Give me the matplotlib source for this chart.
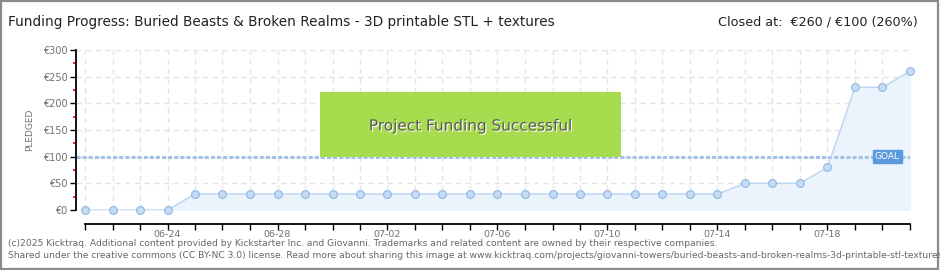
import matplotlib
matplotlib.use("Agg")
import matplotlib.pyplot as plt
import matplotlib.patheffects as pe
from matplotlib.patches import Rectangle
from matplotlib.ticker import FixedLocator, NullLocator
import numpy as np

plt.rcParams['font.family'] = ['DejaVu Sans']

dates = ["06-21", "06-22", "06-23", "06-24", "06-25", "06-26", "06-27", "06-28",
         "06-29", "06-30", "07-01", "07-02", "07-03", "07-04", "07-05", "07-06",
         "07-07", "07-08", "07-09", "07-10", "07-11", "07-12", "07-13", "07-14",
         "07-15", "07-16", "07-17", "07-18", "07-19", "07-20", "07-21"]
pledged = [0, 0, 0, 0, 30, 30, 30, 30, 30, 30, 30, 30, 30, 30, 30, 30,
           30, 30, 30, 30, 30, 30, 30, 30, 50, 50, 50, 80, 230, 230, 260]
labeled_dates = ["06-24", "06-28", "07-02", "07-06", "07-10", "07-14", "07-18"]
goal = 100
yticks = [0, 50, 100, 150, 200, 250, 300]
ytick_labels = ["€0", "€50", "€100", "€150", "€200", "€250", "€300"]
yminor = [25, 75, 125, 175, 225, 275]

title = "Funding Progress: Buried Beasts & Broken Realms - 3D printable STL + textures"
closed = "Closed at:  €260 / €100 (260%)"
footer1 = "(c)2025 Kicktraq. Additional content provided by Kickstarter Inc. and Giovanni. Trademarks and related content are owned by their respective companies."
footer2 = "Shared under the creative commons (CC BY-NC 3.0) license. Read more about sharing this image at www.kicktraq.com/projects/giovanni-towers/buried-beasts-and-broken-realms-3d-printable-stl-textures/"

W, H = 940, 270
fig = plt.figure(figsize=(W / 100, H / 100), dpi=100)
fig.patch.set_facecolor("white")
fig.patches.append(Rectangle((0.001, 0.002), 0.997, 0.995, transform=fig.transFigure,
                             fill=False, edgecolor="#8a8a8a", linewidth=1.6))

L, R, B, T = 76, 910, 210, 50
ax = fig.add_axes([L / W, (H - B) / H, (R - L) / W, (B - T) / H])
x = np.arange(len(dates))
n = len(dates) - 1
px_per_day = (R - 85) / n
ax.set_xlim(-(85 - L) / px_per_day, n)
ax.set_ylim(0, 300)

# grid
for yv in yticks[1:]:
    ax.axhline(yv, color="#e4e4e4", lw=1, ls=(0, (4, 3)), zorder=0)
for xv in x:
    ax.axvline(xv, color="#e4e4e4", lw=1, ls=(0, (4, 3)), zorder=0)

ax.fill_between(x, pledged, 0, color="#ebf3fc", zorder=1)
ax.plot(x, pledged, color="#b9d5f2", lw=1, zorder=3)
ax.plot(x, pledged, ls="none", marker="o", ms=5.6, mfc="#c4dcf6", mec="#93b5dc",
        mew=0.8, zorder=4, clip_on=False)

ax.axhline(goal, color="#a3c1e4", lw=2.2, ls=(0, (1.3, 0.7)), zorder=2)
ax.text(n - 0.82, goal, "GOAL", color="white", fontsize=6.5, ha="center", va="center",
        zorder=6, bbox=dict(boxstyle="square,pad=0.25", fc="#5a9be0", ec="#5a9be0"))

# success box
ax.add_patch(Rectangle((0.2926, 0.331), 0.3609, 0.4065, transform=ax.transAxes,
                       facecolor="#a7dc4e", edgecolor="none", zorder=5))
ax.text(0.4735, 0.525, "Project Funding Successful", transform=ax.transAxes,
        ha="center", va="center", fontsize=11, color="#5a5a5a", zorder=7,
        path_effects=[pe.SimplePatchShadow(offset=(0.8, -0.8), shadow_rgbFace="white",
                                           alpha=1.0), pe.Normal()])

for s in ["top", "right"]:
    ax.spines[s].set_visible(False)
ax.spines["left"].set_color("black")
ax.spines["left"].set_bounds(0, 300)
ax.spines["bottom"].set_position(("outward", 10))
ax.spines["bottom"].set_bounds(0, n)
ax.spines["bottom"].set_linewidth(1.3)
ax.spines["left"].set_linewidth(1.3)

ax.yaxis.set_major_locator(FixedLocator(yticks))
ax.set_yticklabels(ytick_labels)
ax.yaxis.set_minor_locator(FixedLocator(yminor))
ax.xaxis.set_minor_locator(NullLocator())
ax.tick_params(axis="y", which="major", length=4, width=1, color="black",
               labelsize=7, labelcolor="#707070", pad=2)
ax.tick_params(axis="y", which="minor", length=2.5, width=1.2, color="#ff0000")

ax.set_xticks(x)
ax.set_xticklabels([d if d in labeled_dates else "" for d in dates])
ax.tick_params(axis="x", length=4, width=1, color="black", labelsize=6.8,
               labelcolor="#707070", pad=0.5)

ax.set_ylabel("PLEDGED", fontsize=6.5, color="#707070", labelpad=6)

fig.text(8 / W, 1 - 22 / H, title, fontsize=9.8, color="#222222", va="center", ha="left")
fig.text(918 / W, 1 - 22 / H, closed, fontsize=9.2, color="#222222", va="center", ha="right")
fig.text(8 / W, 1 - 243 / H, footer1, fontsize=6.6, color="#666666", va="center", ha="left")
fig.text(8 / W, 1 - 256 / H, footer2, fontsize=6.6, color="#666666", va="center", ha="left")

fig.savefig("out.png", dpi=100)
